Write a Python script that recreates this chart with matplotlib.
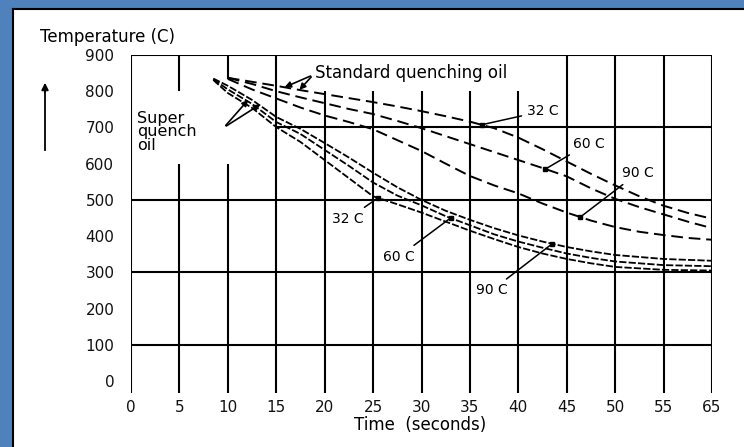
import matplotlib.pyplot as plt
from matplotlib.patches import Rectangle
from matplotlib.lines import Line2D
import numpy as np

plt.rcParams['font.family'] = ['DejaVu Sans']

# tick positions and the labels printed on the original (last one reads 65)
x_ticks = [0, 5, 10, 15, 20, 25, 30, 35, 40, 45, 50, 55, 60]
x_labels = ['0', '5', '10', '15', '20', '25', '30', '35', '40', '45', '50', '55', '65']
y_ticks = [0, 100, 200, 300, 400, 500, 600, 700, 800, 900]

# standard quenching oil
std_x = [10, 12.5, 15, 17.5, 20, 22.5, 25, 27.5, 30, 32.5, 35, 37.5, 40, 42.5, 45, 47.5, 50, 52.5, 55, 57.5, 60]
std_32 = [837, 826, 815, 803, 792, 781, 770, 758, 745, 731, 716, 698, 672, 640, 606, 572, 540, 510, 484, 464, 448]
std_60 = [837, 820, 800, 783, 767, 751, 737, 718, 698, 676, 654, 632, 610, 588, 565, 532, 503, 480, 460, 440, 422]
std_90 = [834, 805, 780, 755, 733, 715, 695, 665, 635, 600, 566, 540, 518, 490, 465, 443, 425, 412, 403, 395, 390]

# super quench oil
sup_x = [8.5, 10, 12.5, 15, 17.5, 20, 22.5, 25, 27.5, 30, 32.5, 35, 37.5, 40, 42.5, 45, 47.5, 50, 55, 60]
sup_90 = [835, 815, 776, 729, 696, 657, 617, 575, 535, 500, 470, 445, 422, 402, 385, 370, 358, 348, 337, 332]
sup_60 = [833, 805, 765, 715, 682, 638, 594, 548, 512, 485, 455, 430, 405, 385, 368, 352, 340, 330, 320, 317]
sup_32 = [831, 795, 754, 701, 660, 610, 560, 510, 488, 465, 440, 415, 392, 370, 352, 337, 325, 315, 307, 305]

W, H = 744, 447
fig = plt.figure(figsize=(W / 100, H / 100), dpi=100)
fig.patch.set_facecolor('#4f81bd')

# white panel with black frame on left and top
fig.add_artist(Rectangle((13 / W, 0), 1, 1 - 9 / H, transform=fig.transFigure,
                         facecolor='white', edgecolor='none', zorder=-10))
fig.add_artist(Line2D([13 / W, 13 / W], [0, 1 - 9 / H], transform=fig.transFigure, color='black', lw=1.5))
fig.add_artist(Line2D([13 / W, 1], [1 - 9 / H, 1 - 9 / H], transform=fig.transFigure, color='black', lw=1.5))

ax = fig.add_axes([131 / W, 1 - 393 / H, (712 - 131) / W, (393 - 55) / H])
ax.set_facecolor('none')
ax.set_xlim(0, 60)
ax.set_ylim(-33, 900)
for s in ax.spines.values():
    s.set_visible(False)

ax.set_xticks(x_ticks, x_labels, fontsize=11)
ax.set_yticks(y_ticks, [str(v) for v in y_ticks], fontsize=11)
ax.tick_params(axis='both', length=0, labelcolor='#111111')
ax.tick_params(axis='y', pad=12)
ax.tick_params(axis='x', pad=5)

# grid, with the gaps left for the labels
glw = 1.5
ybot = -33
for xv in x_ticks:
    if xv in (5, 10):
        top_gap = 800 if xv == 5 else 835
        ax.vlines(xv, ybot, 600, color='black', lw=glw)
        ax.vlines(xv, top_gap, 900, color='black', lw=glw)
    elif 20 <= xv <= 40:
        ax.vlines(xv, ybot, 800, color='black', lw=glw)
    else:
        ax.vlines(xv, ybot, 900, color='black', lw=glw)
for yv in (100, 300, 500, 900):
    ax.hlines(yv, 0, 60, color='black', lw=glw)
ax.hlines(700, 15, 60, color='black', lw=glw)

# curves
for ys in (std_32, std_60, std_90):
    ax.plot(std_x, ys, color='black', lw=1.4, dashes=(6, 3))
for ys in (sup_32, sup_60, sup_90):
    ax.plot(sup_x, ys, color='black', lw=1.3, dashes=(4, 1.2))


def leader(text, txy, x, xs, ys, ha='left'):
    y = np.interp(x, xs, ys)
    ax.annotate(text, xy=(x, y), xytext=txy, fontsize=10, ha=ha, va='center',
                arrowprops=dict(arrowstyle='-', color='black', lw=1.1, shrinkA=2, shrinkB=0))
    ax.plot([x], [y], 's', color='black', ms=2.5)


# standard oil labels
leader('32 C', (40.9, 745), 36.2, std_x, std_32)
leader('60 C', (45.6, 655), 42.8, std_x, std_60)
leader('90 C', (50.7, 574), 46.4, std_x, std_90)
# super quench labels
leader('32 C', (20.8, 448), 25.5, sup_x, sup_32)
leader('60 C', (26.0, 343), 33.0, sup_x, sup_60)
leader('90 C', (35.6, 250), 43.5, sup_x, sup_90)

ax.text(19.0, 850, 'Standard quenching oil', fontsize=12, ha='left', va='center')
for tx, ty in ((15.6, 808), (17.2, 798)):
    ax.annotate('', xy=(tx, ty), xytext=(18.8, 845),
                arrowprops=dict(arrowstyle='-|>', color='black', lw=1.2, mutation_scale=9))

ax.text(0.6, 688, 'Super\nquench\noil', fontsize=11.5, ha='left', va='center', linespacing=0.85)
for tx, ty in ((12.3, 782), (13.6, 768)):
    ax.annotate('', xy=(tx, ty), xytext=(9.6, 700),
                arrowprops=dict(arrowstyle='-|>', color='black', lw=1.2, mutation_scale=9))

# y axis title and arrow
fig.text(40 / W, 1 - 37 / H, 'Temperature (C)', fontsize=12, ha='left', va='center')
fig.add_artist(Line2D([45 / W, 45 / W], [1 - 150 / H, 1 - 90 / H], transform=fig.transFigure,
                      color='black', lw=1.3))
ax.annotate('', xy=(45 / W, 1 - 80 / H), xytext=(45 / W, 1 - 95 / H),
            xycoords='figure fraction', textcoords='figure fraction',
            arrowprops=dict(arrowstyle='-|>', color='black', lw=1.3, mutation_scale=10))

fig.text(420 / W, 1 - 425 / H, 'Time  (seconds)', fontsize=12, ha='center', va='center')

fig.savefig('out.png', dpi=100)
